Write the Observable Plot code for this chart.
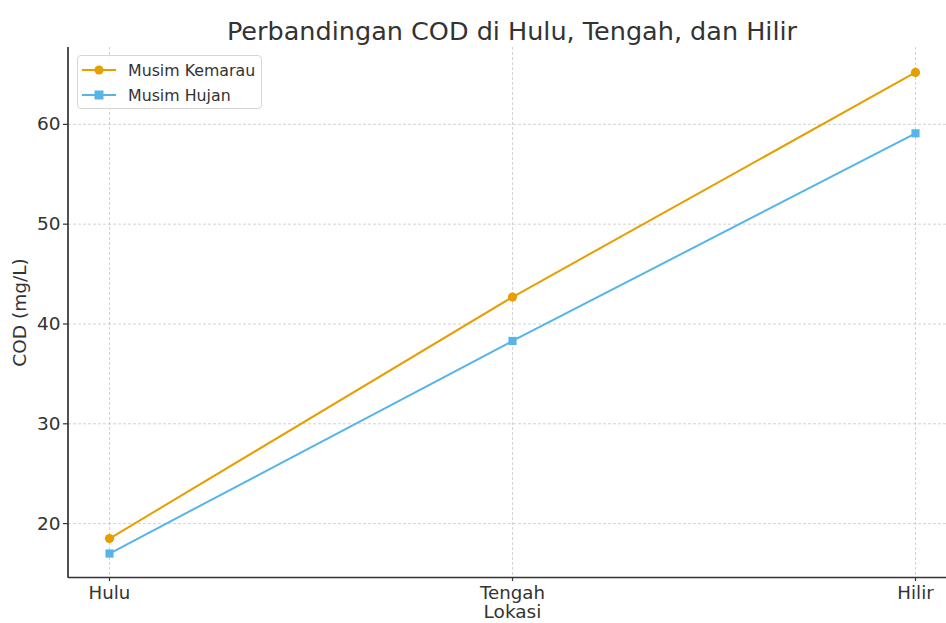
<!DOCTYPE html>
<html>
<head>
<meta charset="utf-8">
<script src="https://cdn.jsdelivr.net/npm/d3@7"></script>
<script src="https://cdn.jsdelivr.net/npm/@observablehq/plot@0.6"></script>
<style>
  html, body { margin: 0; padding: 0; background: #fff; }
  #wrap { position: relative; width: 946px; height: 623px; overflow: hidden; font-family: "DejaVu Sans", sans-serif; }
  #title { position: absolute; left: 0; top: 0; width: 1024px; height: 47px; text-align: center; font-size: 25.5px; line-height: 62px; color: #333; }
  #chart { position: absolute; left: 0; top: 47px; }
  #legend { position: absolute; left: 77px; top: 55px; width: 183px; height: 52px; border: 1px solid #d6d6d6; border-radius: 4px; background: rgba(255,255,255,0.85); font-size: 15.8px; color: #333; }
  .row { position: absolute; left: 4px; height: 20px; display: flex; align-items: center; }
  .row span { margin-left: 12px; }
</style>
</head>
<body>
<div id="wrap">
  <div id="title">Perbandingan COD di Hulu, Tengah, dan Hilir</div>
  <div id="chart"></div>
  <div id="legend"></div>
</div>
<script>
const locations = ["Hulu", "Tengah", "Hilir"];
const seriesNames = ["Musim Kemarau", "Musim Hujan"];
const kemarau = [18.5, 42.7, 65.2];
const hujan = [17.0, 38.3, 59.1];
const yTicks = [20, 30, 40, 50, 60];
const colors = ["#E69F00", "#56B4E9"];
const symbols = ["circle", "square"];

const data = locations.flatMap((loc, i) => [
  {lokasi: loc, cod: kemarau[i], musim: seriesNames[0]},
  {lokasi: loc, cod: hujan[i], musim: seriesNames[1]}
]);

const chart = Plot.plot({
  width: 946,
  height: 576,
  marginLeft: 68,
  marginRight: 0,
  marginTop: 0,
  marginBottom: 46,
  style: {fontFamily: "DejaVu Sans", fontSize: "18px", color: "#333", overflow: "hidden", background: "transparent"},
  x: {type: "point", domain: locations, range: [68, 955], padding: 0.1},
  y: {domain: [14.6, 67.7], range: [530, 0]},
  color: {domain: seriesNames, range: colors},
  symbol: {domain: seriesNames, range: symbols},
  marks: [
    Plot.gridY(yTicks, {stroke: "#b0b0b0", strokeOpacity: 0.7, strokeDasharray: "3,2", strokeWidth: 0.8}),
    Plot.gridX(locations, {stroke: "#b0b0b0", strokeOpacity: 0.7, strokeDasharray: "3,2", strokeWidth: 0.8}),
    Plot.axisY(yTicks, {tickSize: 5, tickPadding: 3, label: null, fontSize: 18.5, strokeWidth: 1.2}),
    Plot.axisX(locations, {tickSize: 4, tickPadding: 5, label: null, fontSize: 18.2, strokeWidth: 1.2}),
    Plot.ruleY([14.6], {stroke: "#333", strokeWidth: 1.7}),
    Plot.line(data, {x: "lokasi", y: "cod", stroke: "musim", strokeWidth: 2}),
    Plot.dot(data, {x: "lokasi", y: "cod", fill: "musim", symbol: "musim", r: 4.6, stroke: "none"}),
    Plot.text(["COD (mg/L)"], {frameAnchor: "left", textAnchor: "middle", lineAnchor: "middle", dx: -48, rotate: -90, fontSize: 18.5, fill: "#333", text: d => d}),
    Plot.text(["Lokasi"], {frameAnchor: "bottom", textAnchor: "middle", lineAnchor: "middle", dx: 5, dy: 35, fontSize: 18.5, fill: "#333", text: d => d})
  ]
});
const svgNS = "http://www.w3.org/2000/svg";
document.getElementById("chart").appendChild(chart);
const spine = document.createElementNS(svgNS, "line");
spine.setAttribute("x1", 68); spine.setAttribute("x2", 68);
spine.setAttribute("y1", 0); spine.setAttribute("y2", 530.8);
spine.setAttribute("stroke", "#333"); spine.setAttribute("stroke-width", 1.7);
chart.appendChild(spine);

const legend = document.getElementById("legend");
seriesNames.forEach((name, i) => {
  const row = document.createElement("div");
  row.className = "row";
  row.style.top = (4 + i * 25) + "px";
  const sym = symbols[i] === "circle"
    ? `<circle cx="17" cy="10" r="4.6" fill="${colors[i]}"/>`
    : `<rect x="12.5" y="5.5" width="9" height="9" fill="${colors[i]}"/>`;
  row.innerHTML = `<svg width="34" height="20"><line x1="0" x2="34" y1="10" y2="10" stroke="${colors[i]}" stroke-width="2"/>${sym}</svg><span>${name}</span>`;
  legend.appendChild(row);
});
</script>
</body>
</html>
